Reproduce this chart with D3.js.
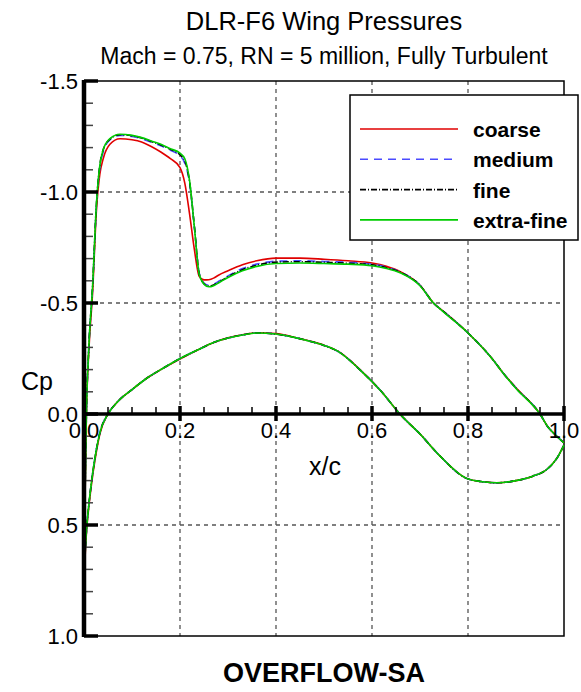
<!DOCTYPE html>
<html>
<head>
<meta charset="utf-8">
<script src="https://cdn.jsdelivr.net/npm/d3@7"></script>
<style>
  body { margin: 0; background: #fff; }
  svg { display: block; font-family: "Liberation Sans", Arial, Helvetica, sans-serif; }
</style>
</head>
<body>
<svg id="chart" width="581" height="692"></svg>
<script>
// chordwise stations, upper surface
var upperX = [0, 0.002, 0.005, 0.01, 0.018, 0.026, 0.033, 0.04, 0.054, 0.075, 0.1, 0.12, 0.14, 0.16, 0.18,
  0.2, 0.21, 0.22, 0.23, 0.24, 0.25, 0.26, 0.27, 0.28, 0.3, 0.33, 0.36, 0.4, 0.45, 0.5, 0.55, 0.6,
  0.63, 0.66, 0.7, 0.728, 0.75, 0.8, 0.85, 0.873, 0.9, 0.95, 0.967, 0.98, 1.0];

var upperCoarse = [0.8, 0.4, 0.0, -0.28, -0.55, -0.92, -1.08, -1.15, -1.215, -1.24, -1.235, -1.225, -1.205, -1.18, -1.15,
  -1.11, -1.04, -0.9, -0.74, -0.62, -0.604, -0.605, -0.612, -0.625, -0.645, -0.672, -0.69, -0.702, -0.702, -0.697, -0.69, -0.68,
  -0.665, -0.64, -0.58, -0.5, -0.46, -0.365, -0.25, -0.185, -0.118, 0.0, 0.06, 0.09, 0.13];

var upperMedium = [0.8, 0.4, 0.0, -0.3, -0.57, -0.94, -1.11, -1.18, -1.235, -1.255, -1.25, -1.24, -1.225, -1.208, -1.188,
  -1.163, -1.13, -1.04, -0.84, -0.635, -0.59, -0.58, -0.585, -0.597, -0.622, -0.655, -0.675, -0.688, -0.69, -0.687, -0.683, -0.675,
  -0.661, -0.638, -0.58, -0.5, -0.46, -0.365, -0.25, -0.185, -0.117, 0.0, 0.06, 0.09, 0.13];

var upperFine = [0.8, 0.4, 0.0, -0.3, -0.58, -0.95, -1.12, -1.19, -1.238, -1.258, -1.253, -1.243, -1.228, -1.212, -1.192,
  -1.168, -1.14, -1.045, -0.845, -0.632, -0.587, -0.576, -0.581, -0.593, -0.618, -0.65, -0.67, -0.684, -0.686, -0.683, -0.679, -0.672,
  -0.659, -0.637, -0.58, -0.5, -0.46, -0.365, -0.25, -0.185, -0.116, 0.0, 0.06, 0.09, 0.13];

var upperExtraFine = [0.8, 0.4, 0.0, -0.3, -0.58, -0.95, -1.12, -1.19, -1.24, -1.26, -1.255, -1.245, -1.23, -1.215, -1.195,
  -1.175, -1.15, -1.05, -0.84, -0.63, -0.585, -0.573, -0.578, -0.59, -0.615, -0.645, -0.665, -0.678, -0.68, -0.678, -0.675, -0.668,
  -0.656, -0.635, -0.578, -0.5, -0.458, -0.365, -0.25, -0.185, -0.115, 0.0, 0.06, 0.09, 0.13];

// lower surface (the four grids collapse onto one curve here)
var lowerX = [0, 0.002, 0.005, 0.01, 0.016, 0.025, 0.033, 0.05, 0.07, 0.1, 0.13, 0.16, 0.2, 0.24, 0.27,
  0.3, 0.33, 0.36, 0.4, 0.44, 0.47, 0.5, 0.53, 0.575, 0.62, 0.658, 0.7, 0.742, 0.797, 0.83, 0.86,
  0.9, 0.935, 0.964, 0.985, 1.0];

var lowerCoarse = [0.8, 0.66, 0.54, 0.42, 0.31, 0.18, 0.09, 0.0, -0.055, -0.11, -0.16, -0.2, -0.248, -0.292, -0.322,
  -0.343, -0.357, -0.366, -0.362, -0.345, -0.329, -0.31, -0.282, -0.2, -0.1, 0.0, 0.09, 0.19, 0.29, 0.305, 0.31,
  0.3, 0.28, 0.25, 0.2, 0.14];

var lowerOther = [0.8, 0.65, 0.53, 0.41, 0.3, 0.17, 0.085, 0.0, -0.055, -0.11, -0.16, -0.2, -0.25, -0.292, -0.322,
  -0.342, -0.356, -0.365, -0.36, -0.344, -0.328, -0.309, -0.281, -0.199, -0.1, 0.0, 0.09, 0.19, 0.29, 0.305, 0.31,
  0.3, 0.28, 0.25, 0.2, 0.14];

var seriesNames = ["coarse", "medium", "fine", "extra-fine"];
var upperData = [upperCoarse, upperMedium, upperFine, upperExtraFine];
var lowerData = [lowerCoarse, lowerOther, lowerOther, lowerOther];

var yMajor = [-1.5, -1.0, -0.5, 0.0, 0.5, 1.0];
var xMajor = [0, 0.2, 0.4, 0.6, 0.8, 1.0];

var colors = ["#e00000", "#4a4aff", "#000000", "#00cc00"];
var dashes = [null, "8,6", "6,2,1,2", null];

var svg = d3.select("#chart");
svg.append("rect").attr("width", 581).attr("height", 692).attr("fill", "#fff");

var plotL = 84, plotR = 564, plotT = 81, plotB = 636;
var x = d3.scaleLinear().domain([0, 1]).range([plotL, plotR]);
var y = d3.scaleLinear().domain([-1.5, 1.0]).range([plotT, plotB]);

// titles
svg.append("text").attr("x", 324).attr("y", 30).attr("text-anchor", "middle")
  .style("font-size", "25.5px").text("DLR-F6 Wing Pressures");
svg.append("text").attr("x", 324).attr("y", 64).attr("text-anchor", "middle")
  .style("font-size", "23px").text("Mach = 0.75, RN = 5 million, Fully Turbulent");
svg.append("text").attr("x", 324).attr("y", 682).attr("text-anchor", "middle")
  .style("font-size", "27px").style("font-weight", "bold").text("OVERFLOW-SA");

// grid
var grid = svg.append("g").attr("stroke", "#555").attr("stroke-width", 1.3).attr("stroke-dasharray", "4,4");
grid.selectAll("line.v").data(xMajor.filter(function(d) { return d > 0 && d < 1; }))
  .join("line").attr("class", "v")
  .attr("x1", function(d) { return x(d); }).attr("x2", function(d) { return x(d); })
  .attr("y1", plotT).attr("y2", plotB);
grid.selectAll("line.h").data(yMajor.filter(function(d) { return d !== 0 && d > -1.5 && d < 1; }))
  .join("line").attr("class", "h")
  .attr("y1", function(d) { return y(d); }).attr("y2", function(d) { return y(d); })
  .attr("x1", plotL).attr("x2", plotR);

// frame
svg.append("rect").attr("x", plotL).attr("y", plotT).attr("width", plotR - plotL).attr("height", plotB - plotT)
  .attr("fill", "none").attr("stroke", "#000").attr("stroke-width", 1.5);

// curves
var line = d3.line()
  .x(function(d) { return x(d[0]); })
  .y(function(d) { return y(d[1]); })
  .curve(d3.curveMonotoneX);

var curves = svg.append("g").attr("fill", "none");
seriesNames.forEach(function(name, i) {
  var up = upperX.map(function(v, k) { return [v, upperData[i][k]]; });
  var lo = lowerX.map(function(v, k) { return [v, lowerData[i][k]]; });
  [up, lo].forEach(function(pts) {
    curves.append("path").datum(pts)
      .attr("d", line)
      .attr("stroke", colors[i])
      .attr("stroke-width", 1.6)
      .attr("stroke-dasharray", dashes[i]);
  });
});

// y axis (ticks inward)
var yAxis = svg.append("g").attr("transform", "translate(" + plotL + ",0)");
yAxis.selectAll("line.minor").data(y.ticks(25).filter(function(d) { return yMajor.indexOf(+d.toFixed(1)) < 0; }))
  .join("line").attr("class", "minor")
  .attr("x1", 0).attr("x2", 9)
  .attr("y1", function(d) { return y(d); }).attr("y2", function(d) { return y(d); })
  .attr("stroke", "#444").attr("stroke-width", 1.5);
yAxis.selectAll("line.major").data(yMajor)
  .join("line").attr("class", "major")
  .attr("x1", 0).attr("x2", 14)
  .attr("y1", function(d) { return y(d); }).attr("y2", function(d) { return y(d); })
  .attr("stroke", "#000").attr("stroke-width", 3.5);
yAxis.append("line").attr("x1", 0).attr("x2", 0).attr("y1", plotT - 1).attr("y2", plotB + 1)
  .attr("stroke", "#000").attr("stroke-width", 4.5);
yAxis.selectAll("text").data(yMajor)
  .join("text")
  .attr("x", -6).attr("y", function(d) { return y(d) + 8; })
  .attr("text-anchor", "end").style("font-size", "22px")
  .text(function(d) { return d.toFixed(1); });

// x axis along Cp = 0
function notMajor(d) { return Math.abs(d * 5 - Math.round(d * 5)) > 1e-6; }
var xAxis = svg.append("g").attr("transform", "translate(0," + y(0) + ")");
xAxis.selectAll("line.minor").data(x.ticks(20).filter(notMajor))
  .join("line").attr("class", "minor")
  .attr("x1", function(d) { return x(d); }).attr("x2", function(d) { return x(d); })
  .attr("y1", -7).attr("y2", 0)
  .attr("stroke", "#000").attr("stroke-width", 1.5);
xAxis.append("line").attr("x1", plotL).attr("x2", plotR).attr("y1", 0).attr("y2", 0)
  .attr("stroke", "#000").attr("stroke-width", 3.5);
xAxis.selectAll("line.major").data(xMajor)
  .join("line").attr("class", "major")
  .attr("x1", function(d) { return x(d); }).attr("x2", function(d) { return x(d); })
  .attr("y1", -8).attr("y2", 7)
  .attr("stroke", "#000").attr("stroke-width", 3.5);
xAxis.selectAll("text").data(xMajor)
  .join("text")
  .attr("x", function(d) { return x(d); }).attr("y", 24)
  .attr("text-anchor", "middle").style("font-size", "22px")
  .text(function(d) { return d.toFixed(1); });

svg.append("text").attr("x", 325).attr("y", 475).attr("text-anchor", "middle")
  .style("font-size", "25px").text("x/c");
svg.append("text").attr("x", 37).attr("y", 390).attr("text-anchor", "middle")
  .style("font-size", "25px").text("Cp");

// legend
var legend = svg.append("g");
legend.append("rect").attr("x", 350).attr("y", 95).attr("width", 228).attr("height", 145)
  .attr("fill", "#fff").attr("stroke", "#000").attr("stroke-width", 1.5);
var rows = legend.selectAll("g.row").data(seriesNames).join("g").attr("class", "row")
  .attr("transform", function(d, i) { return "translate(0," + (129 + i * 30.3) + ")"; });
rows.append("line").attr("x1", 360).attr("x2", 458).attr("y1", 0).attr("y2", 0)
  .attr("stroke", function(d, i) { return colors[i]; })
  .attr("stroke-width", 1.6)
  .attr("stroke-dasharray", function(d, i) { return dashes[i]; });
rows.append("text").attr("x", 473).attr("y", 8)
  .style("font-size", "21px").style("font-weight", "bold")
  .text(function(d) { return d; });
</script>
</body>
</html>
